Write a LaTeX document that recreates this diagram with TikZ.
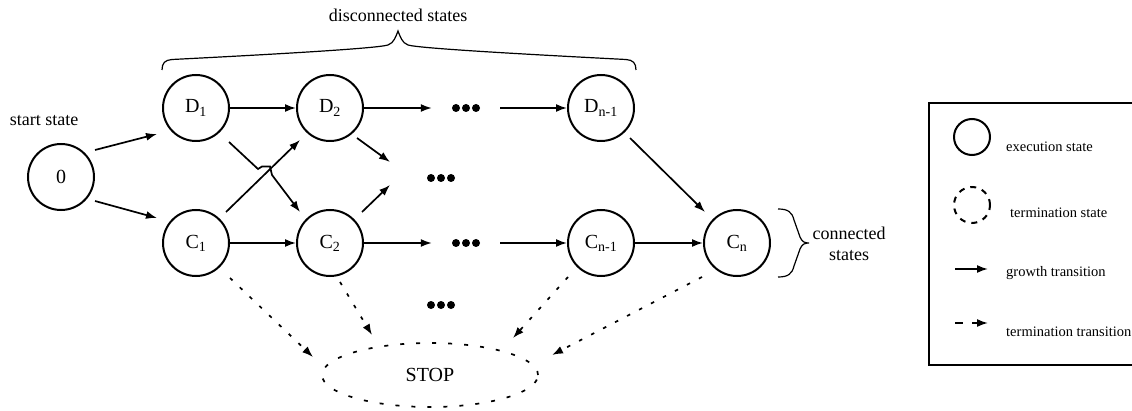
\documentclass[tikz,border=0pt]{standalone}
\usepackage{fontspec}
\setmainfont{Liberation Serif}
\usetikzlibrary{arrows.meta,calc,shapes.geometric}
\begin{document}
\begin{tikzpicture}[x=1pt,y=1pt,
  state/.style={circle,draw,line width=2pt,minimum size=66pt,inner sep=0pt,font=\fontsize{20}{22}\selectfont},
  dotsbox/.style={inner sep=0pt,minimum width=68pt,minimum height=10pt},
  growarr/.style={line width=1.7pt,-{Latex[length=11pt,width=8pt]}},
  termarr/.style={line width=1.7pt,dash pattern=on 3.5pt off 10pt,-{Latex[length=11pt,width=8pt]}},
  lbl/.style={font=\fontsize{18}{21}\selectfont,inner sep=0pt},
  leg/.style={font=\fontsize{14.5}{17}\selectfont,inner sep=0pt,anchor=west},
  brc/.style={line width=1.2pt},
  dotfill/.style={fill=black}
]
\useasboundingbox (0,0) rectangle (1132,410);
\clip (0,0) rectangle (1132,410);

% states
\node[state] (n0) at (61,233) {0};
\node[state] (D1) at (196,302) {D\textsubscript{1}};
\node[state] (D2) at (330,302) {D\textsubscript{2}};
\node[state] (Dn1) at (601,302) {D\textsubscript{n-1}};
\node[state] (C1) at (196,167) {C\textsubscript{1}};
\node[state] (C2) at (330,167) {C\textsubscript{2}};
\node[state] (Cn1) at (601,167) {C\textsubscript{n-1}};
\node[state] (Cn) at (737,167) {C\textsubscript{n}};
\node[ellipse,draw,line width=1.7pt,dash pattern=on 4pt off 12pt,minimum width=216pt,minimum height=64pt,inner sep=0pt,font=\fontsize{20}{22}\selectfont] (stop) at (430,35) {STOP};

% dots
\node[dotsbox] (dt) at (466,302) {};
\node[dotsbox] (db) at (466,167) {};
\node[dotsbox] (dm) at (441,232) {};
\node[dotsbox] (dl) at (441,105) {};
\foreach \n in {dt,db,dm,dl}{
  \foreach \dx in {-10,0,10}{\fill[dotfill] ($(\n)+(\dx,0)$) circle (4);}
}

% labels
\node[lbl] (lstart) at (44,289) {start state};
\node[lbl] (ldisc) at (398,395) {disconnected states};
\node[lbl,align=center] (lconn) at (849,166) {connected\\states};

% growth transitions
\draw[growarr] ($(n0)+(34,27)$) -- ($(D1)+(-39,-26)$);
\draw[growarr] ($(n0)+(34,-24)$) -- ($(C1)+(-39,25)$);
\draw[growarr] (D1) -- (D2);
\draw[growarr] (D2) -- (dt);
\draw[growarr] (dt) -- (Dn1);
\draw[growarr] (C1) -- (C2);
\draw[growarr] (C2) -- (db);
\draw[growarr] (db) -- (Cn1);
\draw[growarr] (Cn1) -- (Cn);
\draw[growarr] ($(C1)+(30,31)$) -- ($(D2)+(-30,-32)$);
\draw[growarr] ($(D1)+(33,-34)$) -- ($(D1)+(62,-61)$) -- ($(D1)+(66,-58.5)$) -- ($(D1)+(74,-58.5)$) -- ($(D1)+(76,-67)$) -- ($(C2)+(-30,31)$);
\draw[growarr] ($(D2)+(27,-30)$) -- ($(dm)+(-51,16)$);
\draw[growarr] ($(C2)+(32,31)$) -- ($(dm)+(-51,-7)$);
\draw[growarr] ($(Dn1)+(29,-30)$) -- ($(Cn)+(-32,31)$);

% termination transitions
\draw[termarr] ($(C1)+(34,-35)$) -- ($(stop)+(-117,18)$);
\draw[termarr] ($(C2)+(10,-39)$) -- ($(stop)+(-58,40)$);
\draw[termarr] ($(Cn1)+(-33,-34)$) -- ($(stop)+(83,37)$);
\draw[termarr] ($(Cn)+(-35,-34)$) -- ($(stop)+(122,20)$);

% top brace
\draw[brc] (162,340) .. controls (162,347) and (165,350) .. (172,350.5)
  .. controls (300,357) and (378,362) .. (388,365)
  .. controls (394,367) and (396,374) .. (398,379)
  .. controls (400,374) and (402,367) .. (408,365)
  .. controls (418,362) and (500,357) .. (626,350.5)
  .. controls (633,350) and (636,347) .. (636,340);
% right brace
\draw[brc] (778,201) .. controls (788,201) and (792,198) .. (794,190)
  -- (800,173) .. controls (802,168) and (805,167) .. (809,167)
  .. controls (805,167) and (802,166) .. (800,161)
  -- (794,144) .. controls (792,136) and (788,133) .. (778,133);

% legend
\draw[line width=2.4pt] (929,45) rectangle (1150,307);
\node[circle,draw,line width=2pt,minimum size=36pt,inner sep=0pt] (lgc) at (972,273) {};
\node[leg] (lgct) at (1006,263) {execution state};
\node[circle,draw,line width=2pt,dash pattern=on 6pt off 6pt,minimum size=36pt,inner sep=0pt] (lgd) at (972,205) {};
\node[leg] (lgdt) at (1010,197) {termination state};
\coordinate (ga) at (955,141);
\coordinate (gb) at (988,141);
\draw[growarr] (ga) -- (gb);
\node[leg] (lggt) at (1006,137) {growth transition};
\coordinate (ta) at (955,87);
\coordinate (tb) at (963,87);
\coordinate (tc) at (972,87);
\coordinate (td) at (988,87);
\draw[line width=1.7pt] (ta) -- (tb);
\draw[growarr] (tc) -- (td);
\node[leg] (lgtt) at (1006,78) {termination transition};
\end{tikzpicture}
\end{document}
